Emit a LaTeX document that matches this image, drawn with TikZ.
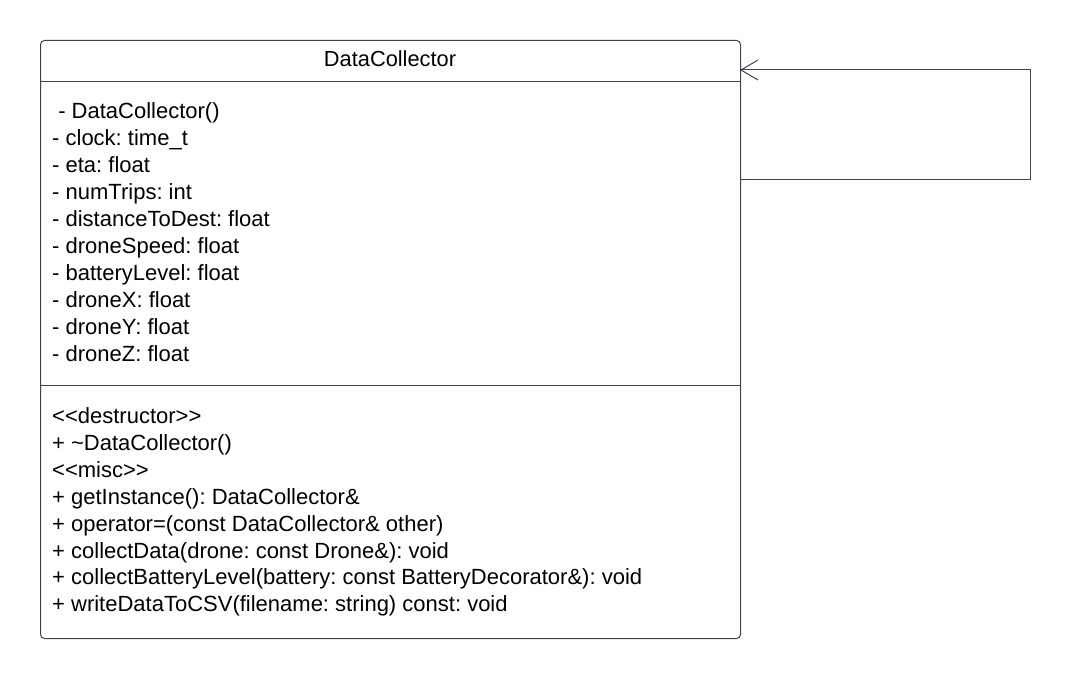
\documentclass[tikz,border=0pt]{standalone}
\usepackage{fontspec}
\setmainfont{Liberation Sans}
\usetikzlibrary{arrows.meta,calc}
\frenchspacing
\definecolor{edge}{RGB}{62,66,74}
\tikzset{
  classbox/.style={draw=edge, line width=1pt, rounded corners=4pt, minimum width=700pt, minimum height=598pt, inner sep=0pt, anchor=north west},
  sep/.style={draw=edge, line width=1pt},
  member/.style={anchor=base west, inner sep=0pt, font=\fontsize{22}{26}\selectfont\frenchspacing},
  title/.style={anchor=base, inner sep=0pt, font=\fontsize{21.8}{26}\selectfont},
  assoc/.style={draw=edge, line width=1pt, -{Straight Barb[length=17pt,width=20pt,line width=1pt]}}
}
\begin{document}
\begin{tikzpicture}[x=1pt,y=1pt]
\useasboundingbox (0,0) rectangle (1071,678);
\node[classbox] (dc) at (40,638) {};
\coordinate (h1) at (40,596);
\coordinate (h2) at (740,596);
\coordinate (a1) at (40,292);
\coordinate (a2) at (740,292);
\draw[sep] (h1) -- (h2);
\draw[sep] (a1) -- (a2);
\node[title] (name) at (390,611) {DataCollector};
% attributes
\node[member] (m0) at (52,559) {\ - DataCollector()};
\node[member] (m1) at (52,532) {- clock: time\_t};
\node[member] (m2) at (52,505) {- eta: float};
\node[member] (m3) at (52,478) {- numTrips: int};
\node[member] (m4) at (52,451) {- distanceToDest: float};
\node[member] (m5) at (52,424) {- droneSpeed: float};
\node[member] (m6) at (52,397) {- batteryLevel: float};
\node[member] (m7) at (52,370) {- droneX: float};
\node[member] (m8) at (52,343) {- droneY: float};
\node[member] (m9) at (52,316) {- droneZ: float};
% operations
\node[member] (o0) at (52,254) {<{}<destructor>{}>};
\node[member] (o1) at (52,227.2) {+ \textasciitilde DataCollector()};
\node[member] (o2) at (52,200.4) {<{}<misc>{}>};
\node[member] (o3) at (52,173.6) {+ getInstance(): DataCollector\&};
\node[member] (o4) at (52,146.8) {+ operator=(const DataCollector\& other)};
\node[member] (o5) at (52,120) {+ collectData(drone: const Drone\&): void};
\node[member] (o6) at (52,93.2) {+ collectBatteryLevel(battery: const BatteryDecorator\&): void};
\node[member] (o7) at (52,66.4) {+ writeDataToCSV(filename: string) const: void};
% self association
\coordinate (s) at (740,498);
\coordinate (c1) at (1030,498);
\coordinate (c2) at (1030,608);
\coordinate (t) at (740,608);
\draw[assoc] (s) -- (c1) -- (c2) -- (t);
\end{tikzpicture}
\end{document}
